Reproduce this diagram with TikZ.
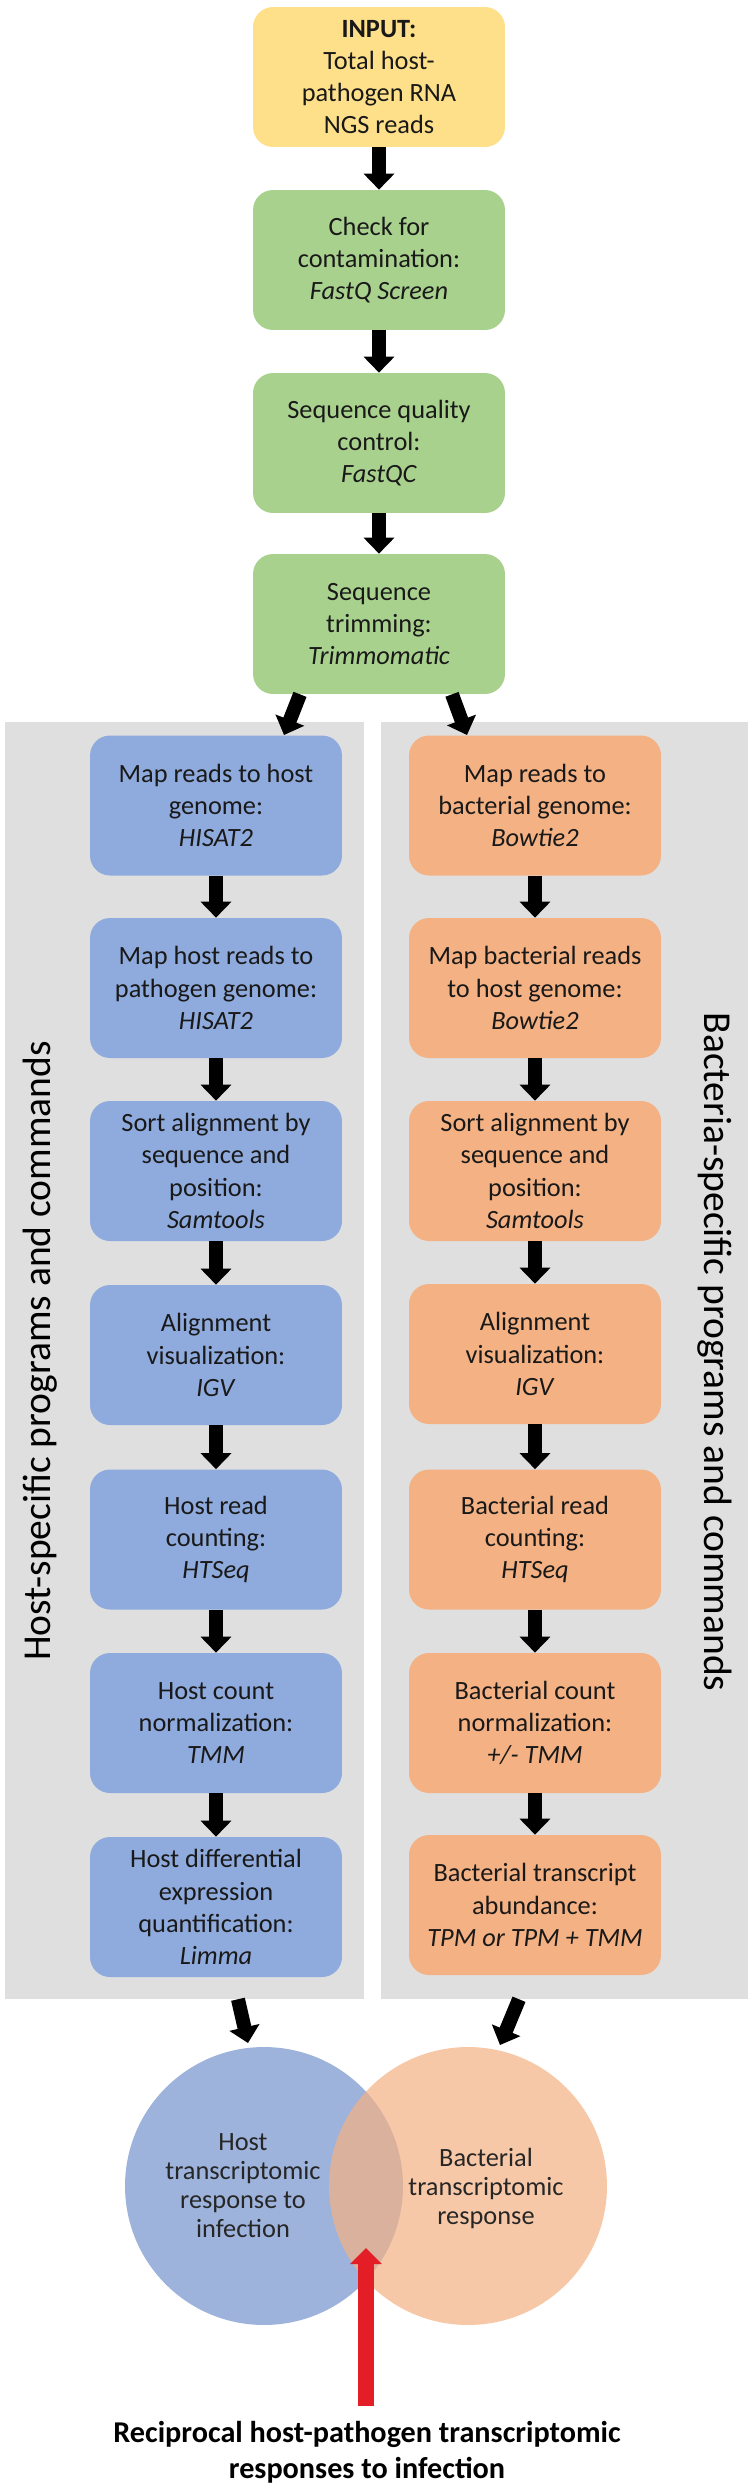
\documentclass[tikz,border=0pt]{standalone}
\usepackage{fontspec}
\setmainfont{Carlito}
\usetikzlibrary{arrows.meta}

\definecolor{inputyellow}{HTML}{FFE08A}
\definecolor{qcgreen}{HTML}{A9D18E}
\definecolor{hostblue}{HTML}{8FAADC}
\definecolor{bactorange}{HTML}{F4B183}
\definecolor{panelgray}{HTML}{DFDFDF}
\definecolor{vennblue}{HTML}{9DB3DC}
\definecolor{arrowred}{HTML}{E41E26}

\begin{document}
\begin{tikzpicture}[x=0.02cm,y=-0.02cm,
  stepbox/.style={rounded corners=0.4cm,minimum width=5.04cm,minimum height=2.8cm,
    inner sep=0pt,align=center,text=black!90,font=\fontsize{15}{18.3}\selectfont},
  inputbox/.style={stepbox,fill=inputyellow},
  qcbox/.style={stepbox,fill=qcgreen},
  hostbox/.style={stepbox,fill=hostblue},
  bactbox/.style={stepbox,fill=bactorange},
  panel/.style={fill=panelgray,inner sep=0pt,minimum height=25.54cm},
  sidelabel/.style={font=\fontsize{22.5}{27}\selectfont},
  venntext/.style={align=center,text=black!85,font=\fontsize{15}{16.5}\selectfont},
  bigarrow/.style={line width=0.28cm,-{Triangle[width=0.6cm,length=0.32cm]}},
  redarrow/.style={draw=arrowred,line width=0.32cm,-{Triangle[width=0.62cm,length=0.32cm,fill=arrowred]}}]
\useasboundingbox (0,0) rectangle (750,2489);

% grey panels
\node[panel,minimum width=7.18cm] (hostpanel) at (184.5,1360.5) {};
\node[panel,minimum width=7.34cm] (bactpanel) at (564.5,1360.5) {};
\node[sidelabel,rotate=90] (hostlabel) at (40,1351) {Host-specific programs and commands};
\node[sidelabel,rotate=-90] (bactlabel) at (715,1352) {Bacteria-specific programs and commands};

% shared steps
\node[inputbox] (input) at (379,77) {\textbf{INPUT:}\\Total host-\\pathogen RNA\\NGS reads};
\node[qcbox] (screen) at (379,260) {Check for\\contamination:\\\textit{FastQ Screen}};
\node[qcbox] (fastqc) at (379,443) {Sequence quality\\control:\\\textit{FastQC}};
\node[qcbox] (trim) at (379,624) {Sequence\\trimming:\\\textit{Trimmomatic}};

\draw[bigarrow] (input) -- (screen);
\draw[bigarrow] (screen) -- (fastqc);
\draw[bigarrow] (fastqc) -- (trim);

\coordinate (hostin) at (284,735);
\coordinate (bactin) at (467,735);
\draw[bigarrow] ([xshift=-1.58cm]trim.south) -- (hostin);
\draw[bigarrow] ([xshift=1.46cm]trim.south) -- (bactin);

% host column
\node[hostbox] (h1) at (216,805.5) {Map reads to host\\genome:\\\textit{HISAT2}};
\node[hostbox] (h2) at (216,988) {Map host reads to\\pathogen genome:\\\textit{HISAT2}};
\node[hostbox] (h3) at (216,1171) {Sort alignment by\\sequence and\\position:\\\textit{Samtools}};
\node[hostbox] (h4) at (216,1355) {Alignment\\visualization:\\\textit{IGV}};
\node[hostbox] (h5) at (216,1539.5) {Host read\\counting:\\\textit{HTSeq}};
\node[hostbox] (h6) at (216,1723) {Host count\\normalization:\\\textit{TMM}};
\node[hostbox] (h7) at (216,1907) {Host differential\\expression\\quantification:\\\textit{Limma}};

\draw[bigarrow] (h1) -- (h2);
\draw[bigarrow] (h2) -- (h3);
\draw[bigarrow] (h3) -- (h4);
\draw[bigarrow] (h4) -- (h5);
\draw[bigarrow] (h5) -- (h6);
\draw[bigarrow] (h6) -- (h7);

% bacterial column
\node[bactbox] (b1) at (535,805.5) {Map reads to\\bacterial genome:\\\textit{Bowtie2}};
\node[bactbox] (b2) at (535,988) {Map bacterial reads\\to host genome:\\\textit{Bowtie2}};
\node[bactbox] (b3) at (535,1171) {Sort alignment by\\sequence and\\position:\\\textit{Samtools}};
\node[bactbox] (b4) at (535,1354) {Alignment\\visualization:\\\textit{IGV}};
\node[bactbox] (b5) at (535,1539.5) {Bacterial read\\counting:\\\textit{HTSeq}};
\node[bactbox] (b6) at (535,1723) {Bacterial count\\normalization:\\\textit{+/- TMM}};
\node[bactbox] (b7) at (535,1905) {Bacterial transcript\\abundance:\\\textit{TPM or TPM + TMM}};

\draw[bigarrow] (b1) -- (b2);
\draw[bigarrow] (b2) -- (b3);
\draw[bigarrow] (b3) -- (b4);
\draw[bigarrow] (b4) -- (b5);
\draw[bigarrow] (b5) -- (b6);
\draw[bigarrow] (b6) -- (b7);

% venn
\fill[vennblue] (264,2186) circle (2.78cm);
\fill[bactorange,fill opacity=0.7] (468,2186) circle (2.78cm);
\node[venntext] (hostresp) at (243,2186) {Host\\transcriptomic\\response to\\infection};
\node[venntext] (bactresp) at (486,2188) {Bacterial\\transcriptomic\\response};

\coordinate (hostset) at (248,2043);
\coordinate (bactset) at (500,2045);
\draw[bigarrow] ([xshift=1.07cm]hostpanel.south) -- (hostset);
\draw[bigarrow] ([xshift=-0.91cm]bactpanel.south) -- (bactset);

\node[align=center,inner ysep=0.3cm,font=\bfseries\fontsize{17.2}{20.5}\selectfont] (reciprocal) at (367,2452)
  {Reciprocal host-pathogen transcriptomic\\responses to infection};
\coordinate (overlap) at (366,2248);
\draw[redarrow] (reciprocal.north -| overlap) -- (overlap);
\end{tikzpicture}
\end{document}
